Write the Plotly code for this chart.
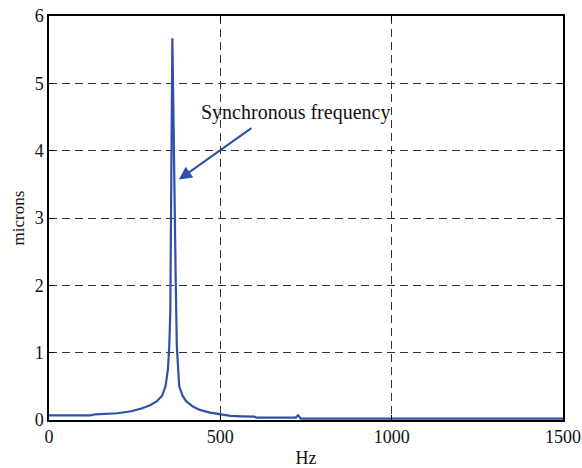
import plotly.graph_objects as go

freq_hz = [0, 120, 135, 200, 240, 270, 295, 315, 330, 340, 347, 351, 354, 357, 360, 363, 366, 370, 373, 376, 380, 390, 400, 420, 440, 470, 500, 530, 560, 600, 605, 720, 727, 735, 1500]
amp_microns = [0.07, 0.07, 0.085, 0.10, 0.13, 0.17, 0.22, 0.28, 0.36, 0.50, 0.75, 1.1, 1.6, 3.5, 5.67, 4.6, 3.0, 2.0, 1.1, 0.75, 0.5, 0.36, 0.28, 0.2, 0.15, 0.11, 0.08, 0.06, 0.055, 0.05, 0.035, 0.035, 0.07, 0.02, 0.02]

x_ticks = [0, 500, 1000, 1500]
y_ticks = [0, 1, 2, 3, 4, 5, 6]

annot_text = "Synchronous frequency"
annot_head = (379, 3.57)
annot_tail = (595, 4.35)
annot_label = (718, 4.56)

font_family = "Liberation Serif, DejaVu Serif, serif"

fig = go.Figure()
fig.add_trace(go.Scatter(x=freq_hz, y=amp_microns, mode="lines",
                         line=dict(color="#3050a8", width=2.2), showlegend=False))

fig.add_annotation(x=annot_head[0], y=annot_head[1], ax=annot_tail[0], ay=annot_tail[1],
                   xref="x", yref="y", axref="x", ayref="y", text="", showarrow=True,
                   arrowhead=2, arrowsize=1.3, arrowwidth=2, arrowcolor="#3050a8")
fig.add_annotation(x=annot_label[0], y=annot_label[1], xref="x", yref="y",
                   text=annot_text, showarrow=False,
                   font=dict(family=font_family, size=20, color="#111"))

axis_common = dict(showline=True, linecolor="black", linewidth=1.5, mirror="ticks",
                   ticks="inside", ticklen=5, tickcolor="black", automargin=False,
                   showgrid=True, gridcolor="#333", griddash="8px,5px", gridwidth=1,
                   zeroline=False, tickfont=dict(family=font_family, size=18, color="#111"))

fig.update_xaxes(range=[0, 1500], tickvals=x_ticks, **axis_common,
                 title=dict(text="Hz", font=dict(family=font_family, size=18, color="#111"), standoff=6))
fig.update_yaxes(range=[0, 6], tickvals=y_ticks, **axis_common,
                 title=dict(text="microns", font=dict(family=font_family, size=17, color="#111"), standoff=6))

fig.update_layout(width=582, height=468, margin=dict(l=49, r=19, t=16, b=48),
                  plot_bgcolor="white", paper_bgcolor="white")

fig.write_html("out.html")
